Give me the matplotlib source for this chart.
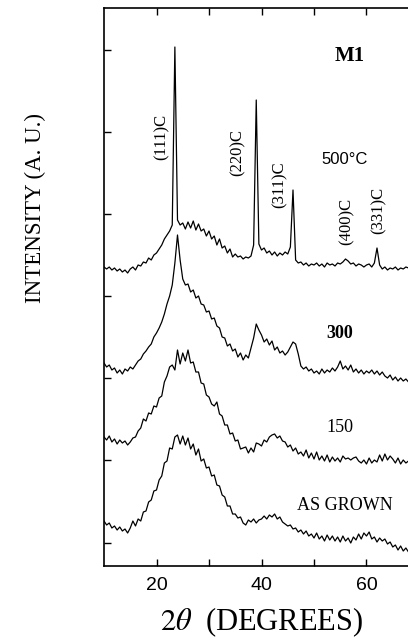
import matplotlib
matplotlib.use('Agg')
import matplotlib.pyplot as plt
import numpy as np

plt.rcParams['font.family'] = 'Liberation Serif'
plt.rcParams['mathtext.fontset'] = 'stix'

# 2theta scan positions (degrees), step 0.5
theta = np.arange(10.0, 70.01, 0.5)

# intensities (arbitrary units, curves already offset as in the figure)
as_grown = [45, 41, 43, 38, 40, 36, 39, 35, 37, 33,
            38, 45, 40, 47, 45, 54, 55, 64, 66, 75,
            76, 86, 90, 103, 105, 118, 117, 129, 131, 122,
            130, 121, 128, 117, 122, 111, 117, 105, 107, 98,
            99, 90, 91, 81, 80, 71, 69, 60, 60, 52,
            52, 48, 49, 43, 41, 46, 44, 47, 43, 46,
            47, 50, 47, 51, 49, 52, 47, 49, 44, 42,
            40, 41, 37, 38, 34, 36, 32, 35, 30, 32,
            28, 33, 27, 30, 25, 31, 26, 30, 25, 29,
            24, 30, 25, 28, 23, 29, 26, 32, 27, 33,
            30, 34, 27, 29, 24, 28, 25, 27, 22, 24,
            19, 21, 16, 20, 15, 18, 14, 17, 15, 16,
            15]

ann_150 = [129, 126, 130, 124, 127, 122, 126, 123, 125, 121,
           124, 128, 129, 135, 138, 147, 145, 153, 152, 160,
           159, 168, 170, 184, 190, 199, 201, 196, 216, 202,
           213, 205, 216, 203, 204, 194, 194, 183, 182, 171,
           169, 162, 160, 164, 152, 150, 141, 141, 132, 133,
           125, 126, 117, 118, 119, 113, 118, 114, 123, 122,
           120, 126, 124, 129, 131, 132, 128, 130, 125, 124,
           119, 121, 115, 118, 112, 114, 110, 116, 108, 113,
           107, 114, 106, 110, 105, 111, 104, 109, 105, 108,
           104, 110, 107, 108, 106, 108, 109, 105, 103, 106,
           102, 108, 103, 106, 104, 111, 105, 112, 106, 110,
           107, 103, 108, 102, 106, 103, 105, 101, 104, 102,
           103]

ann_300 = [203, 199, 201, 196, 198, 193, 196, 192, 197, 195,
           199, 197, 201, 205, 207, 212, 215, 219, 222, 229,
           233, 238, 244, 252, 262, 270, 281, 303, 331, 306,
           287, 281, 282, 274, 276, 268, 270, 262, 261, 254,
           255, 247, 248, 240, 238, 229, 228, 220, 222, 215,
           217, 209, 213, 206, 211, 208, 218, 228, 242, 236,
           231, 224, 227, 221, 225, 216, 219, 213, 215, 211,
           214, 219, 224, 222, 212, 200, 197, 199, 195, 197,
           193, 195, 192, 197, 193, 196, 194, 198, 195, 199,
           205, 197, 200, 196, 201, 194, 197, 193, 196, 192,
           195, 193, 196, 192, 195, 191, 194, 190, 188, 191,
           186, 189, 185, 188, 185, 187, 184, 187, 185, 186,
           185]

ann_500 = [299, 297, 299, 296, 298, 295, 297, 294, 296, 293,
           297, 299, 296, 301, 300, 304, 303, 308, 306, 311,
           313, 317, 321, 327, 331, 335, 341, 519, 346, 341,
           343, 337, 344, 338, 345, 336, 342, 335, 337, 330,
           335, 327, 330, 321, 327, 318, 320, 313, 317, 309,
           312, 309, 310, 307, 309, 308, 310, 321, 466, 322,
           316, 318, 313, 315, 311, 314, 310, 313, 311, 314,
           312, 319, 376, 306, 303, 304, 301, 303, 300, 302,
           301, 303, 300, 302, 299, 303, 301, 302, 300, 303,
           302, 304, 307, 305, 302, 303, 300, 302, 301, 299,
           301, 302, 299, 303, 318, 301, 297, 299, 296, 298,
           297, 299, 296, 298, 297, 299, 298, 297, 299, 298,
           298]

curve_labels = ['AS GROWN', '150', '300', '500\u00b0C']
curve_label_pos = [(55.8, 61), (54.9, 138), (54.9, 232), (55.8, 407)]

peak_labels = ['(111)C', '(220)C', '(311)C', '(400)C', '(331)C']
peak_label_pos = [(20.9, 429), (35.5, 414), (43.4, 381), (56.2, 345), (62.3, 356)]

xticks = [20, 30, 40, 50, 60]
xticklabels = ['20', '', '40', '', '60']
yticks = [23, 106, 188, 270, 352, 434, 516]

fig = plt.figure(figsize=(4.08, 6.39), dpi=100)
ax = fig.add_axes([104 / 408, 73 / 639, 315 / 408, 558 / 639])

for y in [as_grown, ann_150, ann_300, ann_500]:
    ax.plot(theta, y, color='black', lw=0.9)

ax.set_xlim(10, 70)
ax.set_ylim(0, 558)
ax.set_xticks(xticks)
ax.set_xticklabels(xticklabels, family='Liberation Sans', fontsize=14)
ax.set_yticks(yticks)
ax.set_yticklabels([])
ax.tick_params(direction='in', length=5, width=1, top=True, right=True, pad=8)
for sp in ax.spines.values():
    sp.set_linewidth(1.2)

ax.set_xlabel(r'$2\theta$  (DEGREES)', fontsize=22)
ax.xaxis.set_label_coords(0.5, -0.07)
ax.set_ylabel('INTENSITY (A. U.)', fontsize=16.5)
ax.yaxis.set_label_coords(-0.184, 0.642)

ax.text(56.8, 510, 'M1', fontsize=15, fontweight='bold', ha='center', va='center')
for lab, (x, y) in zip(curve_labels, curve_label_pos):
    if lab.startswith('500'):
        ax.text(x, y, lab, fontsize=12, family='Liberation Sans', ha='center', va='center')
    elif lab == '300':
        ax.text(x, y, lab, fontsize=13, fontweight='bold', ha='center', va='center')
    else:
        ax.text(x, y, lab, fontsize=13, ha='center', va='center')
for lab, (x, y) in zip(peak_labels, peak_label_pos):
    ax.text(x, y, lab, fontsize=12, rotation=90, ha='center', va='center')

fig.savefig('out.png', dpi=100)
